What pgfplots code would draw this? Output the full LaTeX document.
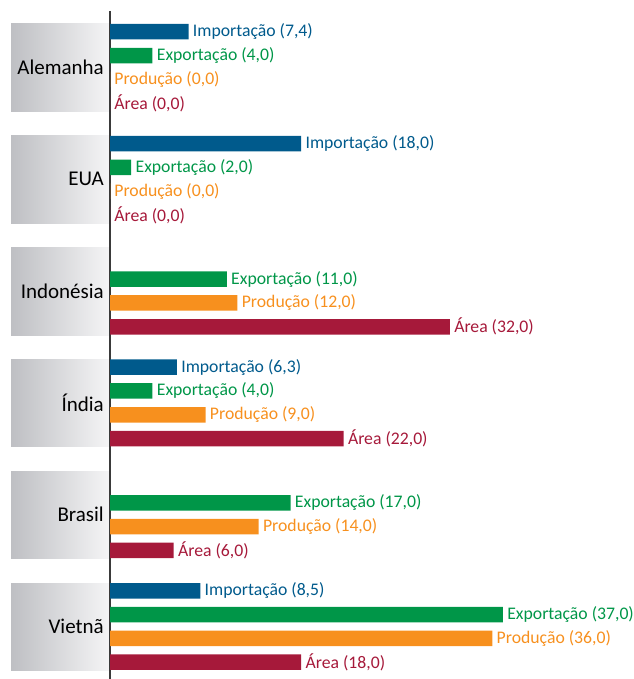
\documentclass[border=0pt]{standalone}
\usepackage{pgfplots}
\pgfplotsset{compat=1.18}
\usepackage{fontspec}
\setmainfont{Carlito}
\definecolor{cImp}{RGB}{0,90,140}
\definecolor{cExp}{RGB}{0,150,72}
\definecolor{cProd}{RGB}{247,144,30}
\definecolor{cArea}{RGB}{166,25,58}
\definecolor{boxL}{RGB}{190,191,195}
\definecolor{boxR}{RGB}{245,245,246}
\pgfplotsset{
  lbl/.style={
    xbar, bar shift=0pt, bar width=7.75pt, draw=none, fill=#1,
    point meta=x,
    every node near coord/.append style={font=\fontsize{8.85}{10}\selectfont, text=#1, anchor=west, inner xsep=2pt, inner ysep=0pt},
  },
}
\newcommand{\fmt}{\pgfmathprintnumber[fixed,fixed zerofill,precision=1,use comma,assume math mode=true]{\pgfplotspointmeta}}
\begin{document}
\begin{tikzpicture}
\begin{axis}[
  name=ax,
  x=5.31pt, y=0.5pt, y dir=reverse,
  xmin=-10.358, xmax=49.247, ymin=0, ymax=679,
  hide axis, clip=false,
]
% category boxes
\foreach \t/\name in {24/Alemanha,135.8/EUA,247.6/Indonésia,359.4/Índia,471.2/Brasil,583.0/Vietnã}{
  \edef\tmp{\noexpand\fill[left color=boxL, right color=boxR] (axis cs:-9.32,\t) rectangle (axis cs:0,\t+87.5);
  \noexpand\node[anchor=east, font=\noexpand\fontsize{10.5}{12}\noexpand\selectfont, inner sep=0pt] at (axis cs:-0.55,\t+43.5) {\name};}
  \tmp
}
\draw[color={rgb,255:red,58;green,58;blue,58}, line width=0.75pt] (axis cs:0,11) -- (axis cs:0,679);

\addplot[lbl=cImp, nodes near coords={Importação (\fmt)}] coordinates {
  (7.4,31.75) (18.0,143.55) (6.3,367.15) (8.5,590.75)
};
\addplot[lbl=cExp, nodes near coords={Exportação (\fmt)}] coordinates {
  (4.0,55.55) (2.0,167.35) (11.0,279.15) (4.0,390.95) (17.0,502.75) (37.0,614.55)
};
\addplot[lbl=cProd, nodes near coords={Produção (\fmt)}] coordinates {
  (0.0,79.35) (0.0,191.15) (12.0,302.95) (9.0,414.75) (14.0,526.55) (36.0,638.35)
};
\addplot[lbl=cArea, nodes near coords={Área (\fmt)}] coordinates {
  (0.0,103.15) (0.0,214.95) (32.0,326.75) (22.0,438.55) (6.0,550.35) (18.0,662.15)
};
\end{axis}
\pgfresetboundingbox
\path (ax.south west) rectangle (ax.north east);
\end{tikzpicture}
\end{document}
